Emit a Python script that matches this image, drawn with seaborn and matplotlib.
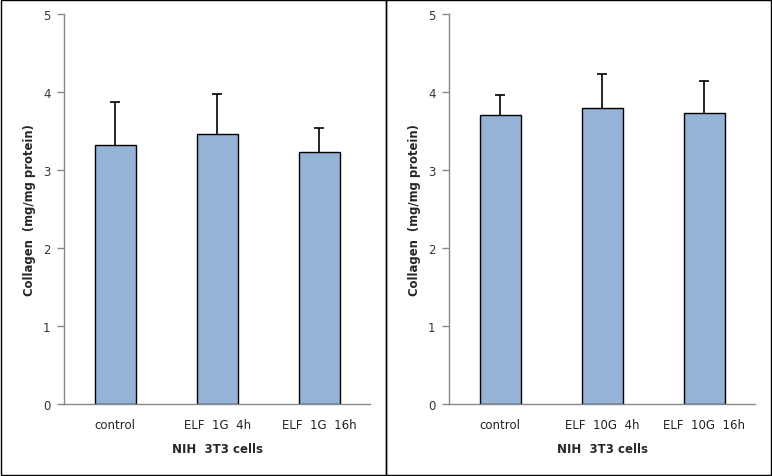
import pandas as pd
import matplotlib
matplotlib.use('Agg')
import matplotlib.pyplot as plt
import seaborn as sns
from matplotlib.patches import Rectangle

labels_1g = ["control", "ELF  1G  4h", "ELF  1G  16h"]
means_1g = [3.32, 3.47, 3.24]
errs_1g = [0.55, 0.51, 0.30]

labels_10g = ["control", "ELF  10G  4h", "ELF  10G  16h"]
means_10g = [3.71, 3.80, 3.73]
errs_10g = [0.25, 0.43, 0.41]

sns.set_theme(style='white')
plt.rcParams['font.family'] = ['DejaVu Sans']

fig = plt.figure(figsize=(7.72, 4.77), dpi=100)
fig.patch.set_facecolor('white')

# panel borders
fig.add_artist(Rectangle((0.001, 0.002), 0.4985, 0.996, transform=fig.transFigure,
                         fill=False, edgecolor='black', linewidth=1.0))
fig.add_artist(Rectangle((0.4995, 0.002), 0.4995, 0.996, transform=fig.transFigure,
                         fill=False, edgecolor='black', linewidth=1.0))

panels = [
    ([0.0833, 0.1503, 0.3963, 0.8177], labels_1g, means_1g, errs_1g),
    ([0.5820, 0.1503, 0.3966, 0.8177], labels_10g, means_10g, errs_10g),
]

for rect, labels, means, errs in panels:
    ax = fig.add_axes(rect)
    df = pd.DataFrame({"group": labels, "value": means})
    sns.barplot(data=df, x="group", y="value", color='#95B3D7', saturation=1,
                edgecolor='black', linewidth=1.0, width=0.4, errorbar=None, ax=ax)
    eb = ax.errorbar(range(len(means)), means, yerr=[[0] * len(errs), errs], fmt='none',
                     ecolor='black', elinewidth=1.2, capsize=3.5, capthick=1.2)
    # only the upper half of the error bar is shown
    eb[1][0].set_visible(False)
    ax.set_xlim(-0.5, len(means) - 0.5)
    ax.set_ylim(0, 5)
    ax.set_yticks([0, 1, 2, 3, 4, 5])
    for s in ['top', 'right']:
        ax.spines[s].set_visible(False)
    for s in ['left', 'bottom']:
        ax.spines[s].set_color('#888888')
        ax.spines[s].set_linewidth(1.0)
    ax.tick_params(axis='y', direction='out', length=5, width=1, color='#888888',
                   labelsize=8.5, labelcolor='#333333', pad=5, left=True)
    ax.tick_params(axis='x', length=0, labelsize=8.5, labelcolor='#222222', pad=10)
    ax.set_ylabel("Collagen  (mg/mg protein)", fontsize=8.4, fontweight='bold', labelpad=5)
    ax.set_xlabel("NIH  3T3 cells", fontsize=8.5, fontweight='bold', labelpad=8)
    ax.set_facecolor('white')

fig.savefig('out.png', dpi=100, facecolor='white')
